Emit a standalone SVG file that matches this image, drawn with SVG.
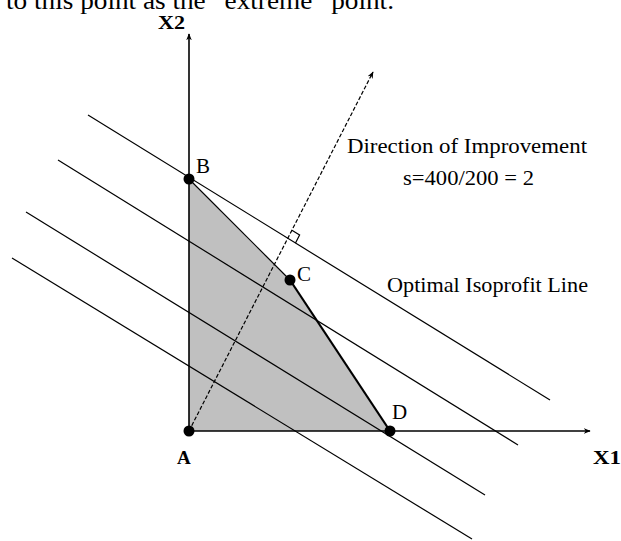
<svg xmlns="http://www.w3.org/2000/svg" width="621" height="541" viewBox="0 0 621 541">
<style>
  .t { font-family: "Liberation Serif", "Times New Roman", serif; fill: #000; }
  .iso { stroke: #000; stroke-width: 1.2; fill: none; }
  .axis { stroke: #000; stroke-width: 1.6; fill: none; }
  .lbl { font-family: "Liberation Serif", "Times New Roman", serif; font-size: 21px; fill: #000; }
  .axl { font-family: "Liberation Serif", "Times New Roman", serif; font-size: 19px; font-weight: bold; fill: #000; }
</style>
<defs>
  <marker id="arr" viewBox="0 0 10 10" refX="9" refY="5" markerWidth="7" markerHeight="7" orient="auto" markerUnits="userSpaceOnUse">
    <path d="M0,1 L10,5 L0,9 L3,5 Z" fill="#000"/>
  </marker>
</defs>
<rect width="621" height="541" fill="#fff"/>
<text class="t" x="6" y="9" font-size="26" textLength="388" lengthAdjust="spacingAndGlyphs">to this point as the “extreme” point.</text>

<g id="region">
  <polygon points="189,431 189,179 290,280 390,431" fill="#c0c0c0" stroke="none"/>
  <line x1="189" y1="179" x2="290" y2="280" stroke="#000" stroke-width="1.2"/>
  <line x1="290" y1="280" x2="390" y2="431" stroke="#000" stroke-width="2.2"/>
</g>

<g id="connectors">
  <line class="iso" x1="88" y1="115" x2="550" y2="400"/>
  <line class="iso" x1="58" y1="160" x2="518" y2="445"/>
  <line class="iso" x1="26" y1="212" x2="485" y2="495"/>
  <line class="iso" x1="12" y1="258" x2="472" y2="539"/>
  <line class="axis" x1="189" y1="431" x2="189" y2="34" marker-end="url(#arr)"/>
  <line class="axis" x1="189" y1="431" x2="590" y2="431" marker-end="url(#arr)"/>
  <line x1="189" y1="431" x2="373" y2="72" stroke="#000" stroke-width="1.2" stroke-dasharray="4 2" marker-end="url(#arr)"/>
  <polyline points="291.9,230.3 299.6,235 295.5,243" fill="none" stroke="#000" stroke-width="1.2"/>
</g>

<g id="A"><circle cx="189" cy="431" r="5.5" fill="#000"/><text class="axl" x="177" y="464">A</text></g>
<g id="B"><circle cx="189" cy="179" r="5.5" fill="#000"/><text class="lbl" x="196" y="173">B</text></g>
<g id="C"><circle cx="290" cy="280" r="5.5" fill="#000"/><text class="lbl" x="297" y="281">C</text></g>
<g id="D"><circle cx="390" cy="431" r="5.5" fill="#000"/><text class="lbl" x="392" y="419">D</text></g>
<g id="X1"><text class="axl" x="593" y="464" textLength="28" lengthAdjust="spacingAndGlyphs">X1</text></g>
<g id="X2"><text class="axl" x="158" y="29" font-size="17" textLength="27" lengthAdjust="spacingAndGlyphs">X2</text></g>

<g id="labels">
  <text class="t" x="347" y="153" font-size="22" textLength="240" lengthAdjust="spacingAndGlyphs">Direction of Improvement</text>
  <text class="t" x="403" y="185" font-size="22" textLength="131" lengthAdjust="spacingAndGlyphs">s=400/200 = 2</text>
  <text class="t" x="387" y="292" font-size="22" textLength="201" lengthAdjust="spacingAndGlyphs">Optimal Isoprofit Line</text>
</g>
</svg>
